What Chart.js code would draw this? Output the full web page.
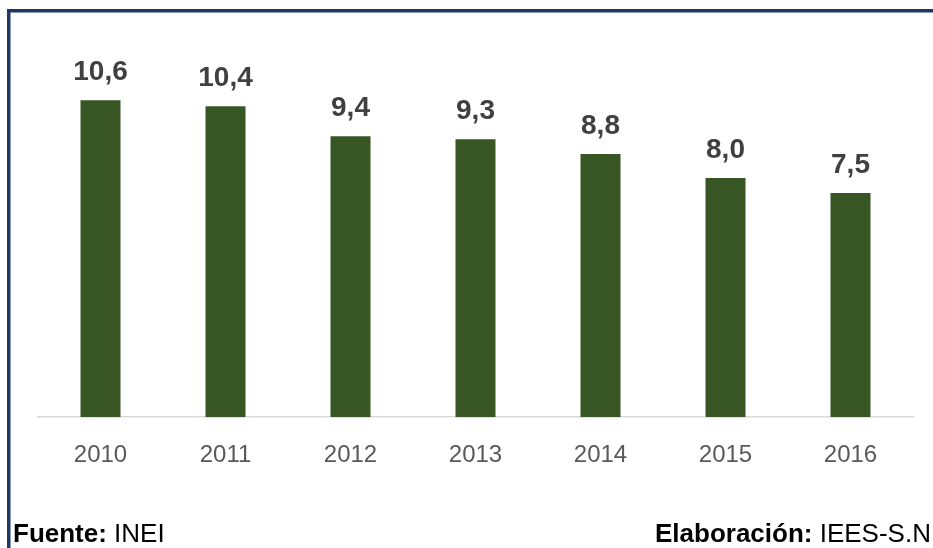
<!DOCTYPE html>
<html>
<head>
<meta charset="utf-8">
<script src="https://cdn.jsdelivr.net/npm/chart.js@4/dist/chart.umd.min.js"></script>
<style>
html,body{margin:0;padding:0;background:#fff;overflow:hidden;}
canvas{display:block;}
</style>
</head>
<body>
<canvas id="c" width="933" height="548"></canvas>
<script>
const categories = ['2010','2011','2012','2013','2014','2015','2016'];
const values = [10.6, 10.4, 9.4, 9.3, 8.8, 8.0, 7.5];
const sourceLabel = 'Fuente:';
const sourceText = ' INEI';
const authorLabel = 'Elaboración:';
const authorText = ' IEES-S.N.I';

const FONT = '"Liberation Sans", Arial, sans-serif';

const framePlugin = {
  id: 'frame',
  beforeDraw(chart) {
    const ctx = chart.ctx;
    ctx.save();
    ctx.fillStyle = '#fff';
    ctx.fillRect(0, 0, chart.width, chart.height);
    ctx.fillStyle = '#1F3864';
    ctx.fillRect(7, 9, chart.width - 7, 3.5);
    ctx.fillRect(7, 9, 3.5, chart.height - 9);
    ctx.restore();
  },
  afterDraw(chart) {
    const ctx = chart.ctx;
    ctx.save();
    const meta = chart.getDatasetMeta(0);
    ctx.fillStyle = '#404040';
    ctx.font = 'bold 28px ' + FONT;
    ctx.textAlign = 'center';
    ctx.textBaseline = 'alphabetic';
    meta.data.forEach((bar, i) => {
      const txt = values[i].toFixed(1).replace('.', ',');
      ctx.fillText(txt, bar.x, bar.y - 20);
    });
    ctx.textAlign = 'left';
    ctx.fillStyle = '#000';
    const y = 542;
    ctx.font = 'bold 26px ' + FONT;
    ctx.fillText(sourceLabel, 13, y);
    let w = ctx.measureText(sourceLabel).width;
    ctx.font = '26px ' + FONT;
    ctx.fillText(sourceText, 13 + w, y);
    ctx.font = 'bold 26px ' + FONT;
    ctx.fillText(authorLabel, 655, y);
    w = ctx.measureText(authorLabel).width;
    ctx.font = '26px ' + FONT;
    ctx.fillText(authorText, 655 + w, y);
    ctx.restore();
  }
};

new Chart(document.getElementById('c'), {
  type: 'bar',
  data: {
    labels: categories,
    datasets: [{
      data: values,
      backgroundColor: '#375623',
      borderWidth: 0,
      categoryPercentage: 1,
      barPercentage: 0.32
    }]
  },
  options: {
    responsive: false,
    animation: false,
    devicePixelRatio: 1,
    layout: { padding: { left: 38, right: 20, top: 58.4, bottom: 54 } },
    plugins: { legend: { display: false }, tooltip: { enabled: false } },
    scales: {
      x: {
        grid: { display: false, drawTicks: false },
        border: { display: true, color: '#D9D9D9', width: 1.5 },
        ticks: { color: '#595959', font: { family: FONT, size: 24 }, padding: 24 }
      },
      y: {
        display: false,
        min: 0,
        max: 12
      }
    }
  },
  plugins: [framePlugin]
});
</script>
</body>
</html>
